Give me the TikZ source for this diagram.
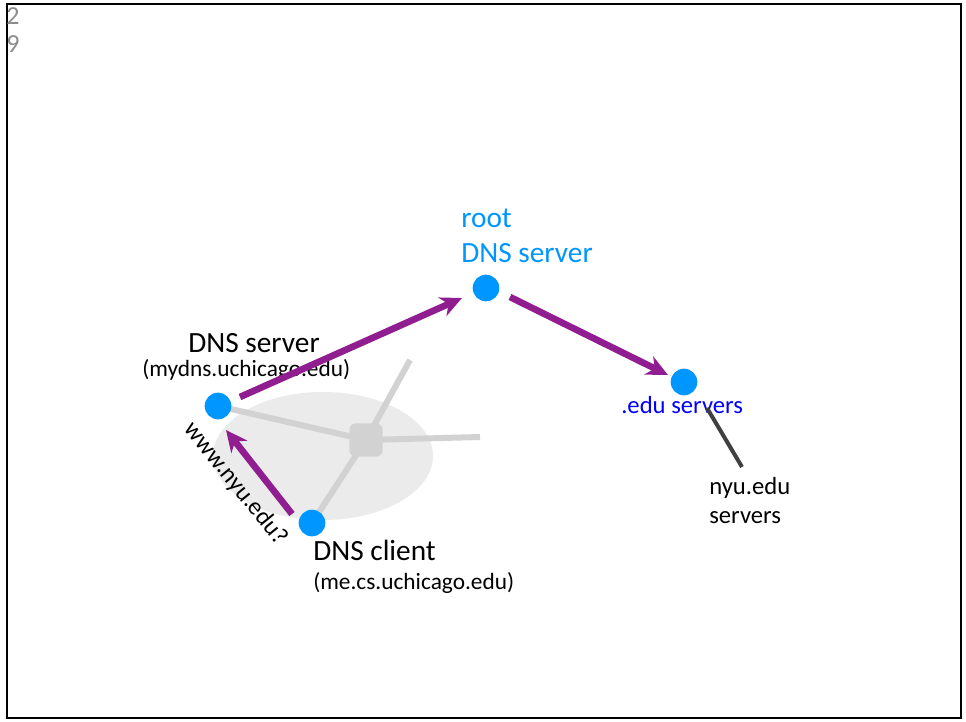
\documentclass[tikz,border=0pt]{standalone}
\usepackage{fontspec}
\setmainfont{Carlito}
\usetikzlibrary{arrows.meta,calc}
\definecolor{dotblue}{RGB}{0,150,255}
\definecolor{edublue}{RGB}{0,0,255}
\definecolor{arrpurple}{RGB}{145,30,145}
\definecolor{netgray}{RGB}{210,210,210}
\definecolor{cloudgray}{RGB}{235,235,235}
\definecolor{pagegray}{RGB}{140,140,140}
\definecolor{leadgray}{RGB}{64,64,64}
\tikzset{
  dot/.style={circle,fill=dotblue,inner sep=0pt,minimum size=20pt},
  hubbox/.style={fill=netgray,rounded corners=5pt,minimum size=25pt,inner sep=0pt},
  netline/.style={netgray,line width=4.5pt},
  qarrow/.style={arrpurple,line width=5pt,-{Stealth[length=16pt,width=15pt,inset=5pt]}},
  lbl/.style={inner sep=0pt,anchor=base west},
  big/.style={font=\fontsize{22}{26}\selectfont},
  small/.style={font=\fontsize{17.5}{21}\selectfont},
  mid/.style={font=\fontsize{18.5}{22}\selectfont},
  pnum/.style={font=\fontsize{19.5}{23}\selectfont},
}
\begin{document}
\begin{tikzpicture}[x=0.75pt,y=-0.75pt]
\useasboundingbox (0,0) rectangle (966,721);
\fill[white] (0,0) rectangle (966,721);
\draw[black,line width=2pt] (7,4) rectangle (961,718);
\node[lbl,pnum,text=pagegray] (p2) at (6,24) {2};
\node[lbl,pnum,text=pagegray] (p9) at (6,52) {9};
% network cloud
\fill[cloudgray] (323,456) ellipse [x radius=110, y radius=64];
\coordinate (hubc) at (366,440);
\coordinate (e1) at (410,360);
\coordinate (e2) at (480,437);
\coordinate (srvc) at (218,406);
\coordinate (clic) at (312,523);
\draw[netline] (srvc) -- (hubc);
\draw[netline] (hubc) -- (e1);
\draw[netline] (hubc) -- (e2);
\draw[netline] (hubc) -- (clic);
\node[hubbox] (hub) at (hubc) {};
\node[dot] (srv) at (srvc) {};
\node[dot] (cli) at (clic) {};
\node[dot] (root) at (486,288) {};
\node[dot] (edu) at (684,382) {};
% labels
\node[lbl,big,text=dotblue] (rootl1) at (461,227) {root};
\node[lbl,big,text=dotblue] (rootl2) at (461,262) {DNS server};
\node[lbl,big] (srvl) at (188,352) {DNS server};
\node[lbl,small] (srvl2) at (142,376) {(mydns.uchicago.edu)};
\node[lbl,big] (clil) at (313,560) {DNS client};
\node[lbl,small] (clil2) at (313,589) {(me.cs.uchicago.edu)};
\node[lbl,mid,text=edublue] (edul) at (621,413) {.edu servers};
\node[lbl,mid] (nyul1) at (709,494) {nyu.edu};
\node[lbl,mid] (nyul2) at (709,523) {servers};
\node[mid,rotate=-51,inner sep=0pt] (q) at (236,484) {www.nyu.edu?};
% lead line
\coordinate (la) at (707,408);
\coordinate (lb) at (742,467);
\draw[leadgray,line width=3pt] (la) -- (lb);
% arrows
\draw[qarrow] ($(srv)+(22,-9)$) -- ($(root)+(-24,10)$);
\draw[qarrow] ($(root)+(24,9)$) -- ($(edu)+(-16,-7)$);
\draw[qarrow] ($(cli)+(-20,-9)$) -- ($(srv)+(8,24)$);
\end{tikzpicture}
\end{document}
